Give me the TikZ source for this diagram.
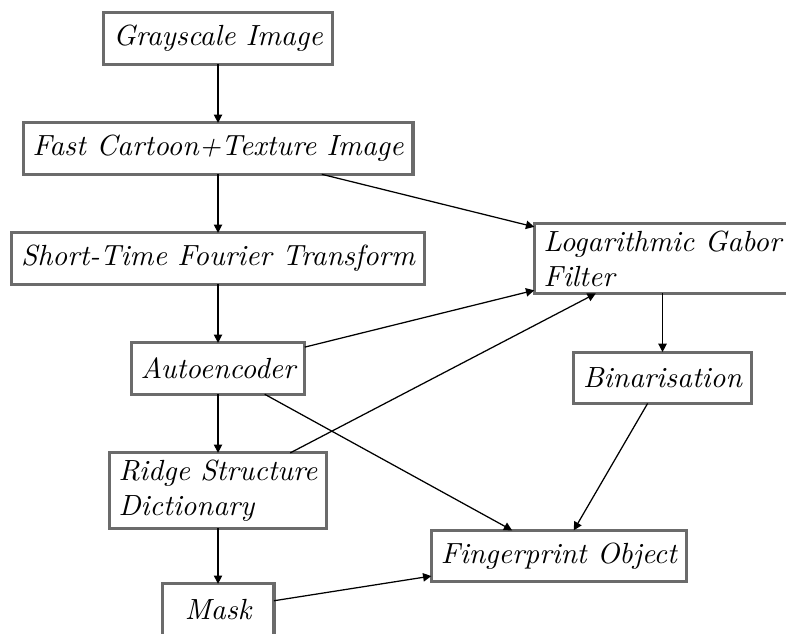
\documentclass[tikz,border=0pt]{standalone}
\usepackage{tikz}
\usetikzlibrary{arrows.meta,positioning}
\tikzset{
    flownode/.style = {
        align=left,
        font=\fontsize{10.5pt}{12.6pt}\selectfont\itshape,
        rectangle,
        draw=black!58,
        line width=1.1pt,
        minimum height=18.5pt,
        inner xsep=3.4pt,
        inner ysep=2.5pt,
        outer sep=0mm
    },
    wideflownode/.style = {
        flownode,
        minimum width=40.3pt
    },
    flowarrow/.style = {
        -{Triangle[length=3pt,width=3pt]},
        line width=0.45pt
    }
}
\begin{document}
\begin{tikzpicture}[node distance=21.1pt]
    \useasboundingbox (0,0) rectangle (283pt,-228.2pt);
    \node [flownode] (gray) at (78.5pt,-13.9pt) {Grayscale Image};
    \node [flownode, below=of gray] (cartoon) {Fast Cartoon+Texture Image};
    \node [flownode, below=of cartoon] (stft) {Short-Time Fourier Transform};
    \node [flownode, below=of stft] (autoenc) {Autoencoder};
    \node [flownode, below=of autoenc] (ridge) {Ridge Structure\\Dictionary};
    \node [wideflownode, below=20pt of ridge] (mask) {Mask};
    \node [flownode, right=39.6pt of stft] (loggabor) {Logarithmic Gabor\\Filter};
    \node [flownode, below=of loggabor] (binar) {Binarisation};
    \node [flownode] (fpobj) at (201.2pt,-200.2pt) {Fingerprint Object};
    \draw [flowarrow] (gray) -- (cartoon);
    \draw [flowarrow] (cartoon) -- (stft);
    \draw [flowarrow] (cartoon) -- (loggabor);
    \draw [flowarrow] (stft) -- (autoenc);
    \draw [flowarrow] (autoenc) -- (ridge);
    \draw [flowarrow] (autoenc) -- (loggabor);
    \draw [flowarrow] (autoenc) -- (fpobj);
    \draw [flowarrow] (ridge) -- (loggabor);
    \draw [flowarrow] (ridge) -- (mask);
    \draw [flowarrow] (loggabor) -- (binar);
    \draw [flowarrow] (binar) -- (fpobj);
    \draw [flowarrow] (mask) -- (fpobj);
\end{tikzpicture}
\end{document}
